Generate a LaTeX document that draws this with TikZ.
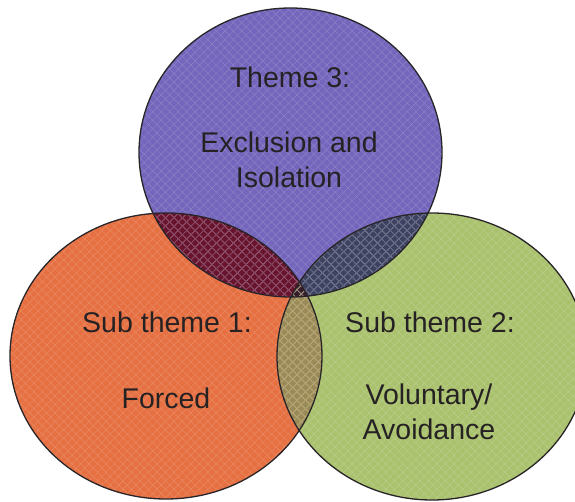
\documentclass[tikz,border=0pt]{standalone}
\usepackage{fontspec}
\setmainfont{Liberation Sans}
\usetikzlibrary{patterns.meta}
\definecolor{topfill}{RGB}{116,102,188}
\definecolor{leftfill}{RGB}{230,112,66}
\definecolor{rightfill}{RGB}{170,194,110}
\definecolor{tlfill}{RGB}{104,20,46}
\definecolor{trfill}{RGB}{60,66,96}
\definecolor{lrfill}{RGB}{154,138,88}
\definecolor{midfill}{RGB}{55,30,45}
\definecolor{rim}{RGB}{40,36,40}
\definecolor{ink}{RGB}{38,34,36}
\tikzset{
  rimline/.style={draw=rim, line width=1.3pt},
  meshA/.style={pattern={Lines[angle=45,distance=6pt,line width=0.5pt]}, pattern color=#1},
  meshB/.style={pattern={Lines[angle=-45,distance=6pt,line width=0.5pt]}, pattern color=#1},
  lbl/.style={text=ink, font=\fontsize{28.5}{35}\selectfont, align=center, inner sep=0pt}
}
\begin{document}
\begin{tikzpicture}[x=1pt,y=-1pt]
\useasboundingbox (0,0) rectangle (575,502);
\def\TopC{(290.5,152.5) ellipse [x radius=151.5, y radius=144.5]}
\def\LeftC{(166,356) ellipse [x radius=156, y radius=143]}
\def\RightC{(432,356.5) ellipse [x radius=155, y radius=143.5]}
% base discs
\fill[leftfill] \LeftC;
\fill[rightfill] \RightC;
\fill[topfill] \TopC;
% pairwise overlaps
\begin{scope}
  \clip \TopC; \fill[tlfill] \LeftC;
\end{scope}
\begin{scope}
  \clip \TopC; \fill[trfill] \RightC;
\end{scope}
\begin{scope}
  \clip \LeftC; \fill[lrfill] \RightC;
\end{scope}
\begin{scope}
  \clip \TopC; \clip \LeftC; \fill[midfill] \RightC;
\end{scope}
% fine diamond mesh, a little lighter than each fill
\fill[meshA=leftfill!82!white] \LeftC; \fill[meshB=leftfill!82!white] \LeftC;
\fill[meshA=rightfill!82!white] \RightC; \fill[meshB=rightfill!82!white] \RightC;
\fill[meshA=topfill!82!white] \TopC; \fill[meshB=topfill!82!white] \TopC;
\begin{scope}
  \clip \TopC;
  \fill[meshA=tlfill!85!white] \LeftC; \fill[meshB=tlfill!85!white] \LeftC;
  \fill[meshA=trfill!85!white] \RightC; \fill[meshB=trfill!85!white] \RightC;
\end{scope}
\begin{scope}
  \clip \LeftC;
  \fill[meshA=lrfill!82!white] \RightC; \fill[meshB=lrfill!82!white] \RightC;
\end{scope}
% outlines
\draw[rimline] \LeftC;
\draw[rimline] \RightC;
\draw[rimline] \TopC;
% labels
\node[lbl] (t3) at (290,77) {Theme 3:};
\node[lbl] (t3b) at (289,160) {Exclusion and\\Isolation};
\node[lbl] (s1) at (167,322) {Sub theme 1:};
\node[lbl] (s1b) at (166,398) {Forced};
\node[lbl] (s2) at (430,322) {Sub theme 2:};
\node[lbl] (s2b) at (429,412) {Voluntary/\\Avoidance};
\end{tikzpicture}
\end{document}
